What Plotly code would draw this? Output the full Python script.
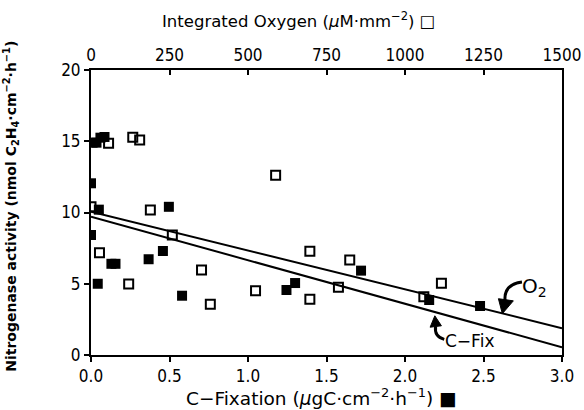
import plotly.graph_objects as go

# C-fixation measurements (filled squares, bottom axis)
cfix_x = [0.00, 0.00, 0.01, 0.035, 0.06, 0.086, 0.05, 0.043, 0.13, 0.156,
          0.367, 0.458, 0.496, 0.58, 1.245, 1.30, 1.72, 2.154, 2.478]
cfix_y = [12.05, 8.42, 14.9, 14.9, 15.25, 15.3, 10.2, 5.0, 6.4, 6.4,
          6.72, 7.3, 10.4, 4.16, 4.56, 5.05, 5.92, 3.86, 3.44]

# Integrated oxygen measurements (open squares, top axis)
oxy_x = [0, 27, 56, 133, 155, 120, 189, 259, 352, 380,
         524, 588, 697, 697, 788, 824, 1060, 1116]
oxy_y = [10.4, 7.18, 14.86, 15.28, 15.09, 4.98, 10.18, 8.42, 5.96, 3.56,
         4.51, 12.61, 7.28, 3.91, 4.75, 6.67, 4.09, 5.03]

# Linear regressions
cfix_fit = {"intercept": 9.71, "slope": -3.057}
oxy_fit = {"intercept": 10.06, "slope": -0.005453}

cfix_range = [0, 3.0]
oxy_range = [0, 1500]
y_range = [0, 20]

TICK_FONT = dict(family="DejaVu Sans Condensed, Liberation Sans Narrow, DejaVu Sans, sans-serif",
                 size=17, color="black")
TITLE_FONT = dict(family="DejaVu Sans, sans-serif", size=16.5, color="black")

fig = go.Figure()

fig.add_trace(go.Scatter(
    x=cfix_range,
    y=[cfix_fit["intercept"] + cfix_fit["slope"] * v for v in cfix_range],
    mode="lines", line=dict(color="black", width=2), xaxis="x", yaxis="y",
    showlegend=False, hoverinfo="skip"))
fig.add_trace(go.Scatter(
    x=oxy_range,
    y=[oxy_fit["intercept"] + oxy_fit["slope"] * v for v in oxy_range],
    mode="lines", line=dict(color="black", width=2), xaxis="x2", yaxis="y",
    showlegend=False, hoverinfo="skip"))

fig.add_trace(go.Scatter(
    x=oxy_x, y=oxy_y, mode="markers", xaxis="x2", yaxis="y",
    marker=dict(symbol="square-open", size=9, color="black", line=dict(width=2)),
    showlegend=False))
fig.add_trace(go.Scatter(
    x=cfix_x, y=cfix_y, mode="markers", xaxis="x", yaxis="y",
    marker=dict(symbol="square", size=10, color="black"),
    showlegend=False))

# curved arrows labelling the two regression lines (C-fix axis units)
def arrow(curve, head):
    fig.add_shape(type="path", xref="x", yref="y", path=curve,
                  line=dict(color="black", width=3))
    fig.add_shape(type="path", xref="x", yref="y", path=head,
                  fillcolor="black", line=dict(color="black", width=1))

arrow("M 2.745 5.12 Q 2.63 4.95 2.637 3.85",
      "M 2.595 3.95 L 2.690 3.80 L 2.620 2.90 Z")
arrow("M 2.250 1.10 Q 2.185 1.30 2.195 2.00",
      "M 2.160 1.95 L 2.232 2.05 L 2.190 2.75 Z")

fig.add_annotation(x=2.73, y=4.8, xref="x", yref="y", text="O<sub>2</sub>",
                   showarrow=False, xanchor="left", yanchor="middle",
                   font=dict(family="DejaVu Sans, sans-serif", size=20, color="black"))
fig.add_annotation(x=2.245, y=1.0, xref="x", yref="y", text="C−Fix",
                   showarrow=False, xanchor="left", yanchor="middle",
                   font=dict(family="DejaVu Sans, sans-serif", size=17, color="black"))

# axis titles
fig.add_annotation(x=0.44, y=1.0, xref="paper", yref="paper", yshift=50,
                   text="Integrated Oxygen (<i>μ</i>M·mm<sup>−2</sup>) □",
                   showarrow=False, xanchor="center", yanchor="middle", font=TITLE_FONT)
fig.add_annotation(x=0.49, y=0.0, xref="paper", yref="paper", yshift=-42,
                   text="C−Fixation (<i>μ</i>gC·cm<sup>−2</sup>·h<sup>−1</sup>) ■",
                   showarrow=False, xanchor="center", yanchor="middle",
                   font=dict(family="DejaVu Sans, sans-serif", size=18.5, color="black"))
fig.add_annotation(x=0.0, y=0.52, xref="paper", yref="paper", xshift=-80,
                   text="<b>Nitrogenase activity (nmol C<sub>2</sub>H<sub>4</sub>·cm<sup>−2</sup>·h<sup>−1</sup>)</b>",
                   textangle=-90, showarrow=False, xanchor="center", yanchor="middle",
                   font=dict(family="DejaVu Sans, sans-serif", size=14, color="black"))

axis_common = dict(showgrid=False, zeroline=False, showline=True, linecolor="black",
                   linewidth=2, tickcolor="black", tickwidth=2, tickfont=TICK_FONT,
                   automargin=False)

fig.update_layout(
    width=584, height=410,
    margin=dict(l=91, r=22, t=70, b=55),
    paper_bgcolor="white", plot_bgcolor="white",
    xaxis=dict(range=cfix_range, dtick=0.5, tickformat=".1f", ticks="outside",
               ticklen=5, mirror=False, **axis_common),
    xaxis2=dict(range=oxy_range, dtick=250, overlaying="x", side="top",
                ticks="inside", ticklen=5, anchor="y", **axis_common),
    yaxis=dict(range=y_range, dtick=5, ticks="outside", ticklen=5, mirror=True,
               **axis_common),
)

fig.write_html("out.html")
